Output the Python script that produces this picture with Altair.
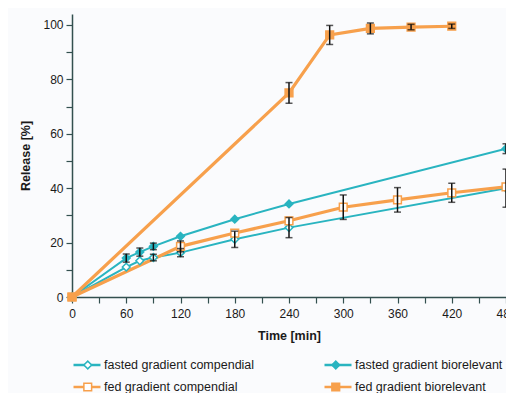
import altair as alt
import pandas as pd

series_names = ["fasted gradient compendial", "fasted gradient biorelevant",
                "fed gradient compendial", "fed gradient biorelevant"]

fc_time = [0, 60, 75, 90, 120, 180, 240, 480]
fc_val = [0, 11.0, 13.3, 14.5, 16.3, 21.2, 25.5, 40.0]
fc_err = [0, 0, 0, 1.2, 1.5, 3.0, 3.7, 7.0]

fb_time = [0, 60, 75, 90, 120, 180, 240, 480]
fb_val = [0, 14.3, 16.5, 18.6, 22.3, 28.6, 34.2, 54.5]
fb_err = [0, 1.5, 1.5, 1.2, 0, 0, 0, 1.8]

fdc_time = [0, 120, 180, 240, 300, 360, 420, 480]
fdc_val = [0, 18.6, 23.5, 28.0, 33.0, 35.7, 38.3, 40.5]
fdc_err = [0, 2.0, 0, 0, 4.5, 4.5, 3.5, 0]

fdb_time = [0, 240, 285, 330, 375, 420]
fdb_val = [0, 75.0, 96.3, 98.7, 99.2, 99.5]
fdb_err = [0, 3.8, 3.5, 2.0, 1.0, 0.8]

x_ticks = list(range(0, 481, 30))
y_ticks = list(range(0, 101, 10))

teal = "#29b4c0"
orange = "#f7a04c"

# line width per series (same order as series_names)
series_line_width = [2, 2, 3.2, 3.2]

# legend order (column-major, two columns): compendial in column 1, biorelevant in column 2
legend_order = [series_names[0], series_names[2], series_names[1], series_names[3]]
line_colors = [teal, orange, teal, orange]
marker_shapes = ["diamond", "square", "diamond", "square"]
marker_fills = ["white", "white", teal, orange]

# marker keys (separate domain so the marker legend stays apart from the line legend)
marker_keys = ["m:" + n for n in legend_order]

rows = []
for name, sw, t, v, e in zip(series_names, series_line_width,
                             [fc_time, fb_time, fdc_time, fdb_time],
                             [fc_val, fb_val, fdc_val, fdb_val],
                             [fc_err, fb_err, fdc_err, fdb_err]):
    for ti, vi, ei in zip(t, v, e):
        rows.append({"series": name, "series_p": "m:" + name, "sw": sw, "time": ti,
                     "value": vi, "lo": vi - ei, "hi": vi + ei, "err": ei})
df = pd.DataFrame(rows)

FONT = "Liberation Sans"

xscale = alt.Scale(domain=[0, 480], nice=False)
yscale = alt.Scale(domain=[0, 104], nice=False)
xaxis = alt.Axis(values=x_ticks, labelExpr="datum.value % 60 == 0 ? datum.label : ''",
                 title="Time [min]", grid=False, titlePadding=10, labelPadding=5,
                 labelFlush=False, labelOverlap=False)
yaxis = alt.Axis(values=y_ticks, labelExpr="datum.value % 20 == 0 ? datum.label : ''",
                 title="Release [%]", grid=False, titlePadding=10, labelPadding=3,
                 labelFlush=False, labelOverlap=False)

X = alt.X("time:Q", scale=xscale, axis=xaxis)

line_legend = alt.Legend(orient="none", legendX=0, legendY=344, columns=2, title=None,
                         symbolType="stroke", symbolSize=729, symbolStrokeWidth=2.5,
                         labelOffset=2, columnPadding=68, rowPadding=8, padding=0,
                         clipHeight=14, labelFont=FONT, labelFontSize=12.5, labelColor="#1a1a1a")
pt_legend = alt.Legend(orient="none", legendX=9.5, legendY=344, columns=2, title=None,
                       symbolSize=60, symbolStrokeWidth=1.5, labelOffset=10,
                       columnPadding=68, rowPadding=8, padding=0, clipHeight=14,
                       labelOpacity=0, labelFont=FONT, labelFontSize=12.5)

lines = alt.Chart(df).mark_line().encode(
    x=X,
    y=alt.Y("value:Q", scale=yscale, axis=yaxis),
    color=alt.Color("series:N", scale=alt.Scale(domain=legend_order, range=line_colors),
                    legend=line_legend),
    strokeWidth=alt.StrokeWidth("sw:Q", scale=None, legend=None),
    detail="series:N",
    order="time:Q",
)

points = alt.Chart(df).mark_point(opacity=1, strokeWidth=1.5, size=60).encode(
    x=X,
    y=alt.Y("value:Q", scale=yscale, axis=yaxis),
    shape=alt.Shape("series_p:N", scale=alt.Scale(domain=marker_keys, range=marker_shapes),
                    legend=pt_legend),
    fill=alt.Fill("series_p:N", scale=alt.Scale(domain=marker_keys, range=marker_fills),
                  legend=pt_legend),
    stroke=alt.Stroke("series_p:N", scale=alt.Scale(domain=marker_keys, range=line_colors),
                      legend=pt_legend),
)

eb = alt.Chart(df).transform_filter("datum.err > 0")
rules = eb.mark_rule(color="#111", strokeWidth=1.5).encode(
    x=X, y=alt.Y("lo:Q", scale=yscale, axis=yaxis), y2="hi:Q")
cap_lo = eb.mark_tick(orient="horizontal", size=7, thickness=1.5, color="#111").encode(
    x=X, y=alt.Y("lo:Q", scale=yscale, axis=yaxis))
cap_hi = eb.mark_tick(orient="horizontal", size=7, thickness=1.5, color="#111").encode(
    x=X, y=alt.Y("hi:Q", scale=yscale, axis=yaxis))

chart = alt.layer(lines, points, rules, cap_lo, cap_hi).properties(
    width=434, height=283,
    autosize=alt.AutoSizeParams(type="none"),
    padding={"left": 64, "top": 6, "right": 0, "bottom": 96},
    background="#fafbfd",
).configure_view(stroke=None).configure_axis(
    domainColor="#33504f", tickColor="#33504f", domainWidth=1.5, tickWidth=1.2,
    tickSize=6, labelColor="#1a1a1a", labelFont=FONT, labelFontSize=12,
    titleFont=FONT, titleFontSize=12.5, titleFontWeight="bold", titleColor="#1a1a1a",
)

chart.save("out.html", embed_options={"renderer": "svg", "actions": False})
